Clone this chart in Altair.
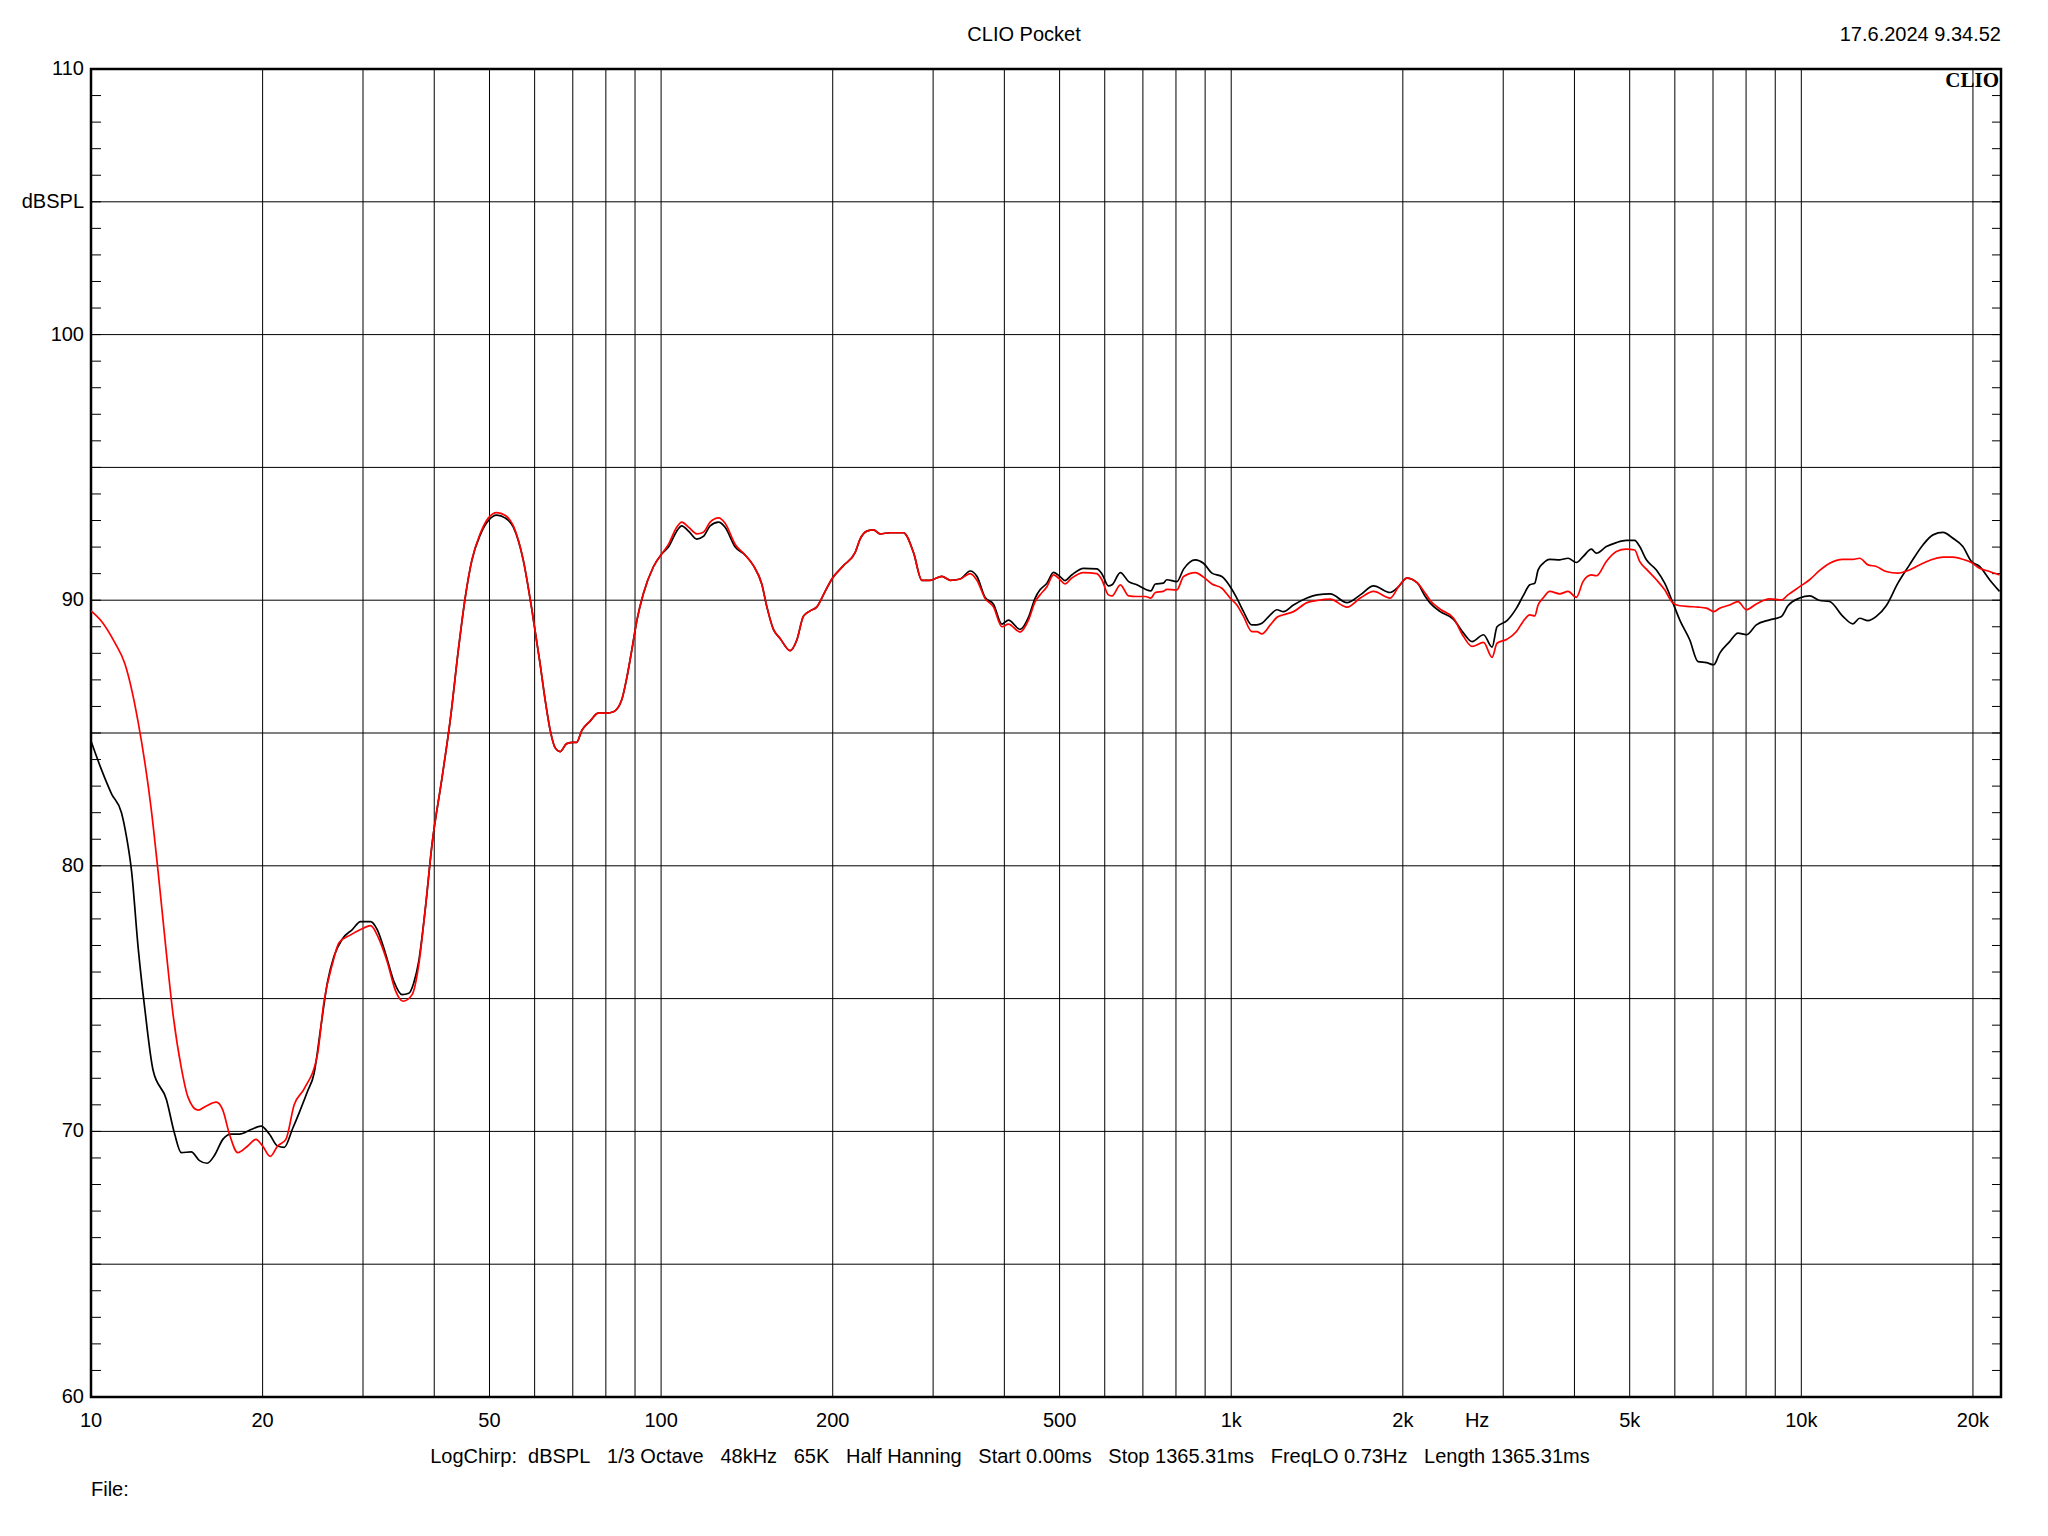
import altair as alt
import pandas as pd

# ---- data (Hz, dB SPL) ----
red_freq = [10, 10.44, 11.01, 11.47, 12.1, 12.76, 13.11, 13.56, 13.93, 14.4, 14.79, 15.4, 15.93, 16.58,
            17.03, 17.49, 18.09, 18.83, 19.47, 20.0, 20.63, 21.25, 21.97, 22.72, 23.65, 24.96, 25.63,
            26.51, 27.23, 28.54, 29.71, 30.93, 31.99, 33.07, 34.2, 35.27, 36.58, 37.57, 38.59, 39.64,
            41.27, 42.68, 44.13, 45.33, 46.56, 48.15, 49.79, 51.48, 53.24, 55.06, 57.32, 59.28, 61.3,
            62.6, 63.9, 65.2, 66.5, 68.3, 70.2, 71.1, 72.6, 75.0, 77.6, 80.3, 82.5, 85.3, 87.1, 88.8,
            90.7, 93.1, 96.9, 100.3, 103.0, 106.5, 108.7, 111.7, 115.5, 118.6, 121.9, 126.1, 129.5,
            134.9, 140.4, 145.2, 150.2, 153.3, 157.4, 161.7, 168.4, 173.0, 177.7, 182.6, 187.6, 192.6,
            199.3, 208.8, 219.0, 223.4, 229.6, 235.8, 242.2, 252.2, 266.1, 277.1, 286.7, 296.4, 310.8,
            321.4, 334.7, 348.4, 358.0, 370.2, 382.8, 396.0, 406.7, 426.4, 440.9,
            453, 462, 475, 488, 501, 511, 525, 551, 581, 593, 609, 618, 639, 661, 683, 707, 723, 736,
            760, 771, 803, 825, 865, 894, 925, 963, 996, 1023, 1051, 1087, 1109, 1132, 1171, 1203,
            1235, 1286, 1358, 1414, 1492, 1596, 1684, 1777, 1901, 1966, 2033, 2118, 2190, 2234, 2326,
            2455, 2556, 2645, 2771, 2868, 2926, 3046,
            3165, 3251, 3340, 3407, 3454, 3524, 3620, 3770, 3898, 4031, 4141, 4283, 4371, 4550, 4739,
            4933, 5102, 5205, 5349, 5569, 5759, 5956, 6119, 6371, 6589, 6817, 7022, 7191, 7487, 7742,
            8010, 8338, 8801, 9226, 9475, 9933, 10340, 10770, 11210, 11830, 12320, 12660, 13090,
            13540, 14090, 14770, 15480, 16340, 17020, 17720, 18450, 19200, 19870, 20540, 21390, 22270]
red_db = [89.6, 89.2, 88.4, 87.6, 85.4, 82.1, 79.8, 76.7, 74.4, 72.4, 71.3, 70.8, 70.96, 71.1,
          70.8, 69.9, 69.2, 69.45, 69.7, 69.45, 69.06, 69.45, 69.7, 71.0, 71.6, 72.9, 74.9,
          76.3, 77.1, 77.4, 77.6, 77.75, 77.25, 76.4, 75.3, 74.9, 75.15, 76.26, 78.4, 80.8,
          83.3, 85.5, 88.2, 90.1, 91.5, 92.5, 93.1, 93.3, 93.2, 92.8, 91.5, 89.7, 87.65,
          86.25, 85.1, 84.44, 84.3, 84.6, 84.65, 84.65, 85.1, 85.44, 85.75, 85.75, 85.8, 86.25, 87.1, 88.1,
          89.25, 90.25, 91.25, 91.75, 92.1, 92.75, 92.94, 92.75, 92.5, 92.56, 92.94, 93.1, 92.9,
          92.1, 91.7, 91.3, 90.6, 89.75, 88.9, 88.56, 88.1, 88.5, 89.4, 89.6, 89.75, 90.2,
          90.8, 91.3, 91.8, 92.3, 92.6, 92.65, 92.5, 92.54, 92.54, 91.8, 90.75, 90.75, 90.9,
          90.75, 90.8, 91.0, 90.75, 90.06, 89.75, 89.0, 89.1, 88.8, 89.25,
          89.95, 90.2, 90.51, 90.95, 90.77, 90.61, 90.83, 91.04, 91.0, 90.77, 90.2, 90.16, 90.58, 90.16,
          90.14, 90.14, 90.08, 90.29, 90.33, 90.41, 90.39, 90.89, 91.04, 90.87, 90.61, 90.45, 90.08,
          89.82, 89.39, 88.82, 88.82, 88.73, 89.07, 89.36, 89.45, 89.57, 89.91, 89.99, 90.04, 89.74,
          90.08, 90.33, 90.08, 90.51, 90.83, 90.66, 90.26, 89.99, 89.66, 89.32, 88.63, 88.26, 88.41,
          87.85, 88.38, 88.53,
          88.82, 89.2, 89.45, 89.41, 89.82, 90.08, 90.33, 90.24, 90.33, 90.11, 90.7, 90.95, 90.92,
          91.46, 91.83, 91.92, 91.89, 91.46, 91.17, 90.77, 90.39, 89.89, 89.79, 89.76, 89.74, 89.7,
          89.57, 89.7, 89.82, 89.95, 89.64, 89.86, 90.05, 90.01, 90.2, 90.51, 90.77, 91.12, 91.39,
          91.54, 91.54, 91.58, 91.33, 91.27, 91.08, 91.02, 91.14, 91.39, 91.54, 91.62, 91.62, 91.54,
          91.42, 91.2, 91.08, 90.95]

black_freq = [10, 10.44, 10.87, 11.31, 11.54, 11.78, 12.1, 12.43, 12.85, 13.56, 14.02, 14.4, 14.99,
              15.5, 15.99, 16.47, 17.03, 17.61, 18.21, 19.09, 19.87, 20.55, 21.25, 21.83, 22.57,
              23.18, 23.97, 24.63, 25.29, 25.98, 26.69, 27.6, 28.73, 29.71, 30.93, 31.77, 32.85,
              33.98, 35.13, 36.09, 36.83, 37.57, 38.59, 39.64, 41.27, 42.68, 44.13, 45.33, 46.56,
              48.15, 49.79, 51.48, 53.24, 55.06, 57.32, 59.28, 61.3,
              62.6, 63.9, 65.2, 66.5, 68.3, 70.2, 71.1, 72.6, 75.0, 77.6, 80.3, 82.5, 85.3, 87.1, 88.8,
              90.7, 93.1, 96.9, 100.3, 103.0, 106.5, 108.7, 111.7, 115.5, 118.6, 121.9, 126.1, 129.5,
              134.9, 140.4, 145.2, 150.2, 153.3, 157.4, 161.7, 168.4, 173.0, 177.7, 182.6, 187.6, 192.6,
              199.3, 208.8, 219.0, 223.4, 229.6, 235.8, 242.2, 252.2, 266.1, 277.1, 286.7, 296.4, 310.8,
              321.4, 334.7, 348.4, 358.0, 370.2, 382.8, 396.0, 406.7, 426.4, 440.9,
              453, 462, 475, 488, 501, 511, 525, 551, 581, 593, 609, 618, 639, 661, 683, 707, 723, 736,
              760, 771, 803, 825, 865, 894, 925, 963, 996, 1023, 1051, 1087, 1109, 1132, 1171, 1203,
              1235, 1286, 1358, 1414, 1492, 1596, 1684, 1777, 1901, 1966, 2033, 2118, 2190, 2234, 2326,
              2455, 2556, 2645, 2771, 2868, 2926, 3046,
              3165, 3251, 3340, 3407, 3454, 3524, 3620, 3770, 3898, 4031, 4141, 4283, 4371, 4550, 4739,
              4933, 5102, 5205, 5349, 5569, 5759, 5956, 6119, 6371, 6589, 6817, 7022, 7191, 7487, 7742,
              8010, 8338, 8801, 9226, 9475, 9933, 10340, 10770, 11210, 11830, 12320, 12660, 13090,
              13540, 14090, 14770, 15480, 16340, 17020, 17720, 18450, 19200, 19870, 20540, 21390, 22270]
black_db = [84.7, 83.6, 82.7, 82.0, 81.1, 79.8, 76.9, 74.6, 72.3, 71.2, 69.9, 69.2, 69.23,
            68.9, 68.8, 69.1, 69.7, 69.9, 69.9, 70.07, 70.2, 69.9, 69.45, 69.4, 70.1,
            70.7, 71.5, 72.2, 73.9, 75.6, 76.6, 77.25, 77.6, 77.9, 77.9, 77.6, 76.7,
            75.65, 75.15, 75.2, 75.6, 76.4, 78.4, 80.8, 83.3, 85.5, 88.2, 90.1, 91.5,
            92.45, 93.0, 93.2, 93.1, 92.75, 91.5, 89.7, 87.65,
            86.25, 85.1, 84.44, 84.3, 84.6, 84.65, 84.65, 85.1, 85.44, 85.75, 85.75, 85.8, 86.25, 87.1, 88.1,
            89.25, 90.25, 91.25, 91.75, 92.0, 92.6, 92.8, 92.6, 92.3, 92.4, 92.8, 92.94, 92.75,
            92.0, 91.7, 91.3, 90.6, 89.75, 88.9, 88.56, 88.1, 88.5, 89.4, 89.6, 89.75, 90.2,
            90.8, 91.3, 91.8, 92.3, 92.6, 92.65, 92.5, 92.54, 92.54, 91.8, 90.75, 90.75, 90.9,
            90.75, 90.8, 91.1, 90.9, 90.1, 89.85, 89.1, 89.25, 88.9, 89.35,
            90.08, 90.39, 90.64, 91.05, 90.89, 90.74, 90.95, 91.2, 91.18, 91.0, 90.54, 90.58, 91.04, 90.7,
            90.58, 90.41, 90.35, 90.61, 90.64, 90.77, 90.7, 91.17, 91.52, 91.39, 91.02, 90.89, 90.51,
            90.08, 89.57, 89.07, 89.07, 89.13, 89.45, 89.64, 89.57, 89.82, 90.08, 90.2, 90.24, 89.91,
            90.2, 90.54, 90.29, 90.51, 90.83, 90.66, 90.14, 89.89, 89.57, 89.28, 88.76, 88.44, 88.7,
            88.23, 89.0, 89.23,
            89.7, 90.16, 90.58, 90.64, 91.14, 91.39, 91.54, 91.52, 91.58, 91.42, 91.64, 91.92, 91.77,
            92.02, 92.17, 92.25, 92.25, 92.02, 91.52, 91.14, 90.64, 89.89, 89.26, 88.51, 87.69, 87.65,
            87.57, 88.0, 88.44, 88.76, 88.7, 89.07, 89.26, 89.39, 89.79, 90.08, 90.16, 89.99, 89.95,
            89.39, 89.11, 89.32, 89.23, 89.39, 89.79, 90.64, 91.33, 92.08, 92.46, 92.55, 92.33, 92.02,
            91.46, 91.27, 90.77, 90.33]

grid_freqs = [10, 20, 30, 40, 50, 60, 70, 80, 90, 100, 200, 300, 400, 500, 600, 700, 800, 900,
              1000, 2000, 3000, 4000, 5000, 6000, 7000, 8000, 9000, 10000, 20000]
grid_db = [65, 70, 75, 80, 85, 90, 95, 100, 105]
minor_db = [v for v in range(61, 110)]
x_label_values = [10, 20, 50, 100, 200, 500, 1000, 2000, 2700, 5000, 10000, 20000]
x_label_texts = ["10", "20", "50", "100", "200", "500", "1k", "2k", "Hz", "5k", "10k", "20k"]
y_label_values = [60, 70, 80, 90, 100, 105, 110]
y_label_texts = ["60", "70", "80", "90", "100", "dBSPL", "110"]

title_text = "CLIO Pocket"
date_text = "17.6.2024 9.34.52"
logo_text = "CLIO"
info_items = ["LogChirp:", "dBSPL", "1/3 Octave", "48kHz", "65K", "Half Hanning", "Start 0.00ms",
              "Stop 1365.31ms", "FreqLO 0.73Hz", "Length 1365.31ms"]
file_text = "File:"

NB = "\u00a0"
info_text = info_items[0] + NB * 2 + (NB * 3).join(info_items[1:])

# ---- layout ----
W, H = 1910, 1328
FONT = "Liberation Sans"

xscale = alt.Scale(type="log", domain=[10, 22400], nice=False)
yscale = alt.Scale(domain=[60, 110], nice=False, zero=False)

vgrid = alt.Chart(pd.DataFrame({"f": grid_freqs})).mark_rule(color="black", strokeWidth=1).encode(
    x=alt.X("f:Q", scale=xscale, axis=None))
hgrid = alt.Chart(pd.DataFrame({"v": grid_db})).mark_rule(color="black", strokeWidth=1).encode(
    y=alt.Y("v:Q", scale=yscale, axis=None))
lticks = alt.Chart(pd.DataFrame({"v": minor_db})).mark_rule(color="black", strokeWidth=1).encode(
    y=alt.Y("v:Q", scale=yscale, axis=None), x=alt.value(0), x2=alt.value(10))
rticks = alt.Chart(pd.DataFrame({"v": minor_db})).mark_rule(color="black", strokeWidth=1).encode(
    y=alt.Y("v:Q", scale=yscale, axis=None), x=alt.value(W - 9), x2=alt.value(W))

xlabels = alt.Chart(pd.DataFrame({"f": x_label_values, "t": x_label_texts})).mark_text(
    align="center", baseline="middle", font=FONT, fontSize=20, color="black").encode(
    x=alt.X("f:Q", scale=xscale, axis=None), y=alt.value(H + 24), text="t:N")
ylabels = alt.Chart(pd.DataFrame({"v": y_label_values, "t": y_label_texts})).mark_text(
    align="right", baseline="middle", font=FONT, fontSize=20, color="black").encode(
    y=alt.Y("v:Q", scale=yscale, axis=None), x=alt.value(-7), text="t:N")

black_line = alt.Chart(pd.DataFrame({"f": black_freq, "db": black_db})).mark_line(
    color="black", strokeWidth=1.7, clip=True, interpolate="monotone").encode(
    x=alt.X("f:Q", scale=xscale, axis=None), y=alt.Y("db:Q", scale=yscale, axis=None))
red_line = alt.Chart(pd.DataFrame({"f": red_freq, "db": red_db})).mark_line(
    color="#ff0000", strokeWidth=1.7, clip=True, interpolate="monotone").encode(
    x=alt.X("f:Q", scale=xscale, axis=None), y=alt.Y("db:Q", scale=yscale, axis=None))


def label(txt, x, y, align="center", size=20, font=FONT, weight="normal", baseline="middle"):
    return alt.Chart(pd.DataFrame({"t": [txt]})).mark_text(
        align=align, baseline=baseline, font=font, fontSize=size, fontWeight=weight,
        color="black").encode(text="t:N", x=alt.value(x), y=alt.value(y))


title = label(title_text, 933, -34, size=20)
date = label(date_text, W, -34, align="right", size=20)
logo = label(logo_text, W - 2, 1, align="right", size=21, font="Liberation Serif",
             weight="bold", baseline="top")
info = label(info_text, 919, 1388, size=20)
file_lbl = label(file_text, 0, 1421, align="left", size=20)

chart = alt.layer(vgrid, hgrid, lticks, rticks, xlabels, ylabels, black_line, red_line,
                  title, date, logo, info, file_lbl).properties(
    width=W, height=H,
    padding={"left": 83, "top": 61, "right": 30, "bottom": 120},
    autosize=alt.AutoSizeParams(type="none"),
    background="white",
).configure_view(stroke="black", strokeWidth=2.5)

chart.save("out.html", embed_options={"renderer": "svg", "actions": False})
